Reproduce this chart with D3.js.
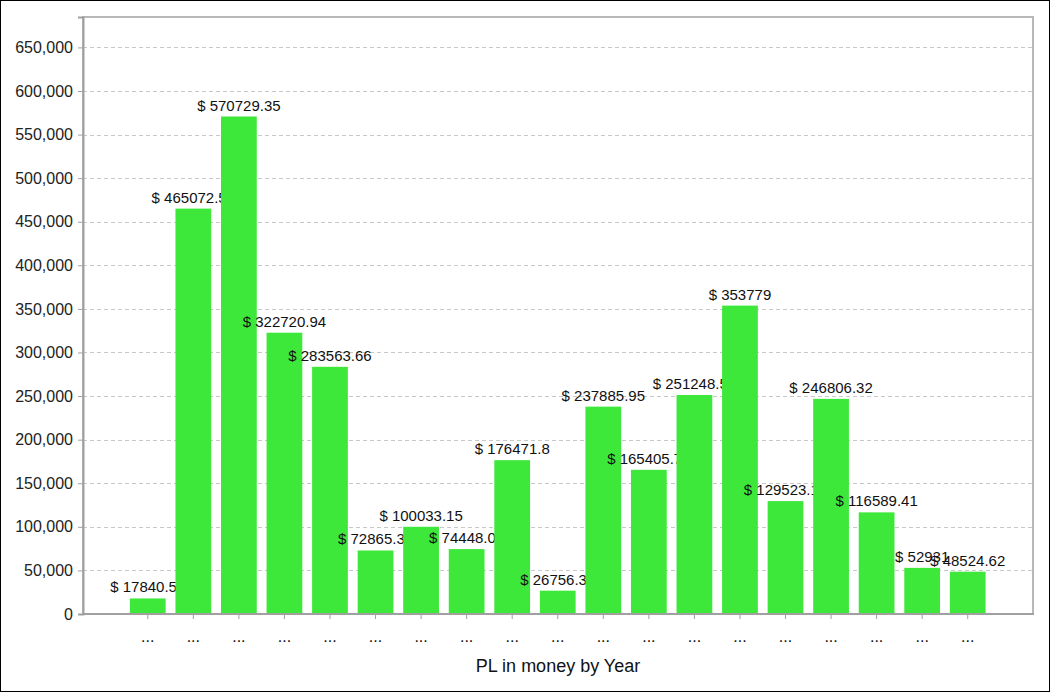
<!DOCTYPE html>
<html>
<head>
<meta charset="utf-8">
<script src="https://cdn.jsdelivr.net/npm/d3@7"></script>
<style>
  html, body { margin: 0; padding: 0; background: #fff; }
  svg { display: block; font-family: "Liberation Sans", Arial, sans-serif; }
</style>
</head>
<body>
<svg id="chart" width="1051" height="693"></svg>
<script>
const categories = ["c1","c2","c3","c4","c5","c6","c7","c8","c9","c10","c11","c12","c13","c14","c15","c16","c17","c18","c19"];
const tickLabels = ["...","...","...","...","...","...","...","...","...","...","...","...","...","...","...","...","...","...","..."];
const values = [17840.55, 465072.55, 570729.35, 322720.94, 283563.66, 72865.35, 100033.15, 74448.05, 176471.8, 26756.35, 237885.95, 165405.75, 251248.55, 353779, 129523.15, 246806.32, 116589.41, 52931, 48524.62];
const yTicks = [0, 50000, 100000, 150000, 200000, 250000, 300000, 350000, 400000, 450000, 500000, 550000, 600000, 650000];
const xTitle = "PL in money by Year";

const svg = d3.select("#chart");
const L = 83, R = 1033, T = 17, B = 614;

// outer border
svg.append("rect").attr("x", 0.5).attr("y", 0.5).attr("width", 1049).attr("height", 691)
  .attr("fill", "#fff").attr("stroke", "#000").attr("stroke-width", 1);

const y = d3.scaleLinear().domain([0, d3.max(values) * 1.2]).range([B, T]);
const x = d3.scaleBand().domain(categories).range([125, 990.5]).paddingInner(0.215).paddingOuter(0.1075);

// gridlines
svg.append("g").selectAll("line").data(yTicks.filter(d => d > 0)).join("line")
  .attr("x1", L).attr("x2", R)
  .attr("y1", d => Math.round(y(d)) + 0.5).attr("y2", d => Math.round(y(d)) + 0.5)
  .attr("stroke", "#c8c8c8").attr("stroke-dasharray", "4,3");

// frame
svg.append("rect").attr("x", L).attr("y", T).attr("width", R - L).attr("height", B - T)
  .attr("fill", "none").attr("stroke", "#b8b8b8").attr("stroke-width", 2);

// y axis
const yAxis = d3.axisLeft(y).tickValues(yTicks).tickSize(5).tickPadding(5)
  .tickFormat(d3.format(","));
const gy = svg.append("g").attr("transform", `translate(${L},0)`).call(yAxis);
gy.select(".domain").attr("stroke", "#a0a0a0").attr("stroke-width", 2);
gy.selectAll(".tick line").attr("stroke", "#a0a0a0");
gy.selectAll(".tick text").attr("font-size", 16).attr("fill", "#222")
  .attr("font-family", "Liberation Sans, Arial, sans-serif");

// bars and labels (each bar then its label, so following bars cover labels)
const groups = svg.append("g").selectAll("g").data(values).join("g");
groups.append("rect")
  .attr("x", (d, i) => x(categories[i]))
  .attr("width", x.bandwidth())
  .attr("y", d => y(d))
  .attr("height", d => B - y(d))
  .attr("fill", "#3de83b");
groups.append("text")
  .attr("x", (d, i) => x(categories[i]) + x.bandwidth() / 2)
  .attr("y", d => y(d) - 6)
  .attr("text-anchor", "middle")
  .attr("font-size", 15)
  .attr("fill", "#111")
  .text(d => "$ " + d);

// x axis
const xAxis = d3.axisBottom(x).tickSize(5).tickPadding(12)
  .tickFormat((d, i) => tickLabels[i]);
const gx = svg.append("g").attr("transform", `translate(0,${B})`).call(xAxis);
gx.select(".domain").remove();
svg.append("line").attr("x1", L - 1).attr("x2", R + 1).attr("y1", B).attr("y2", B)
  .attr("stroke", "#a0a0a0").attr("stroke-width", 2);
gx.selectAll(".tick line").attr("stroke", "#a0a0a0");
gx.selectAll(".tick text").attr("font-size", 16).attr("fill", "#111")
  .attr("font-family", "Liberation Sans, Arial, sans-serif");

// x title
svg.append("text").attr("x", (L + R) / 2).attr("y", 672)
  .attr("text-anchor", "middle").attr("font-size", 18).attr("fill", "#111")
  .text(xTitle);
</script>
</body>
</html>
